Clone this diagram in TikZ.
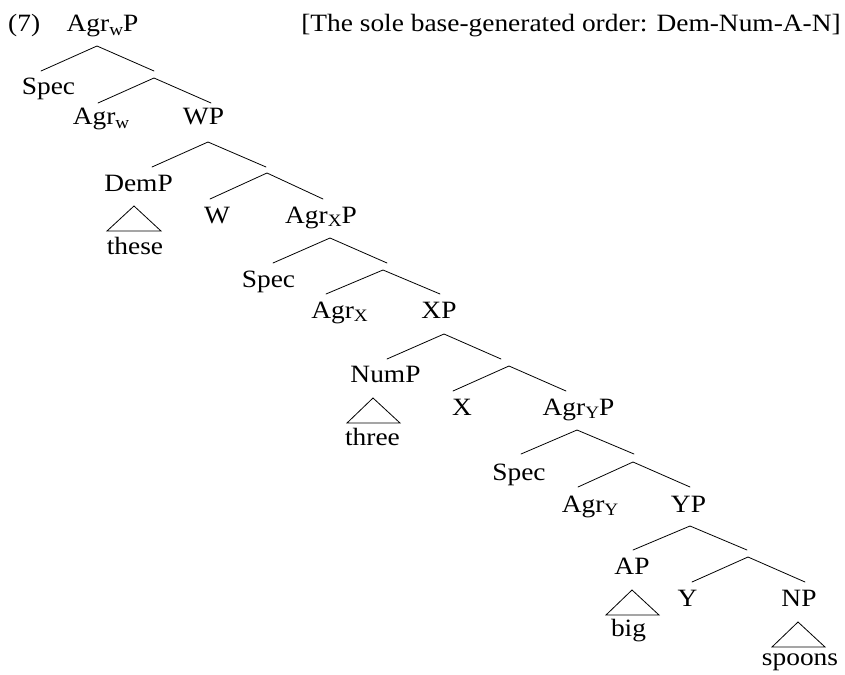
\documentclass[tikz,border=0pt]{standalone}
\usepackage{fontspec}
\setmainfont{Liberation Serif}[FakeStretch=1.1]
% lowered, smaller index on a category label
\newcommand{\lsub}[1]{\raisebox{-0.14em}{\fontsize{17.5}{17.5}\selectfont #1}}
\begin{document}
\begin{tikzpicture}[x=1bp,y=-1bp,
  lbl/.style={anchor=base,inner sep=0pt,font=\fontsize{25}{30}\selectfont},
  branch/.style={line width=0.8bp,line cap=round},
  roof/.style={line width=0.8bp,line join=miter}]
\useasboundingbox (0,0) rectangle (845,675);

% ---- labels ----
\node[lbl,anchor=base west] (ex) at (8,32) {(7)};
\node[lbl] (agrwp) at (102.5,32) {Agr\lsub{w}P};
\node[lbl] (title) at (571,32) {[The sole base-generated order: Dem-Num-A-N]};

\node[lbl] (spec1) at (48.5,95) {Spec};
\node[lbl] (agrw) at (101,125) {Agr\lsub{w}};
\node[lbl] (wp) at (203.5,125) {WP};
\node[lbl] (demp) at (138.5,191) {DemP};
\node[lbl] (w) at (217,223) {W};
\node[lbl] (agrxp) at (321,223) {Agr\lsub{X}P};
\node[lbl] (these) at (135,254) {these};

\node[lbl] (spec2) at (268.5,287) {Spec};
\node[lbl] (agrx) at (339.5,318) {Agr\lsub{X}};
\node[lbl] (xp) at (439,318) {XP};
\node[lbl] (nump) at (385.5,382) {NumP};
\node[lbl] (x) at (462,415) {X};
\node[lbl] (agryp) at (578.5,415) {Agr\lsub{Y}P};
\node[lbl] (three) at (372.5,445) {three};

\node[lbl] (spec3) at (519,480) {Spec};
\node[lbl] (agry) at (590,512) {Agr\lsub{Y}};
\node[lbl] (yp) at (688.5,512) {YP};
\node[lbl] (ap) at (632,574) {AP};
\node[lbl] (y) at (687.5,606) {Y};
\node[lbl] (np) at (799,606) {NP};
\node[lbl] (big) at (628.5,636) {big};
\node[lbl] (spoons) at (800,665) {spoons};

% ---- branching points and branch ends ----
\coordinate (t1) at (97,46);   \coordinate (t1l) at (41,71);   \coordinate (t1r) at (154,71);
\coordinate (t2) at (154,78);  \coordinate (t2l) at (98,103);  \coordinate (t2r) at (211,103);
\coordinate (t3) at (208,142); \coordinate (t3l) at (152,167); \coordinate (t3r) at (266,167);
\coordinate (t4) at (267,173); \coordinate (t4l) at (210,199); \coordinate (t4r) at (323,199);
\coordinate (t5) at (330,238); \coordinate (t5l) at (273,263); \coordinate (t5r) at (387,263);
\coordinate (t6) at (383,270); \coordinate (t6l) at (326,294); \coordinate (t6r) at (440,294);
\coordinate (t7) at (444,334); \coordinate (t7l) at (387,359); \coordinate (t7r) at (501,359);
\coordinate (t8) at (509,366); \coordinate (t8l) at (453,391); \coordinate (t8r) at (566,391);
\coordinate (t9) at (577,430); \coordinate (t9l) at (521,454); \coordinate (t9r) at (634,454);
\coordinate (t10) at (633,462); \coordinate (t10l) at (578,487); \coordinate (t10r) at (690,487);
\coordinate (t11) at (690,526); \coordinate (t11l) at (633,550); \coordinate (t11r) at (747,550);
\coordinate (t12) at (748,557); \coordinate (t12l) at (692,582); \coordinate (t12r) at (805,582);

\foreach \i in {1,...,12}{
  \draw[branch] (t\i l) -- (t\i) -- (t\i r);
}

% ---- roofs over unanalysed phrases ----
\coordinate (r1) at (134,206); \coordinate (r1l) at (107,231); \coordinate (r1r) at (161,231);
\coordinate (r2) at (373,398); \coordinate (r2l) at (347,423); \coordinate (r2r) at (400,423);
\coordinate (r3) at (632,590); \coordinate (r3l) at (606,615); \coordinate (r3r) at (659,615);
\coordinate (r4) at (798,622); \coordinate (r4l) at (772,647); \coordinate (r4r) at (825,647);
\foreach \i in {1,...,4}{
  \draw[roof] (r\i) -- (r\i l) -- (r\i r) -- cycle;
}
\end{tikzpicture}
\end{document}
